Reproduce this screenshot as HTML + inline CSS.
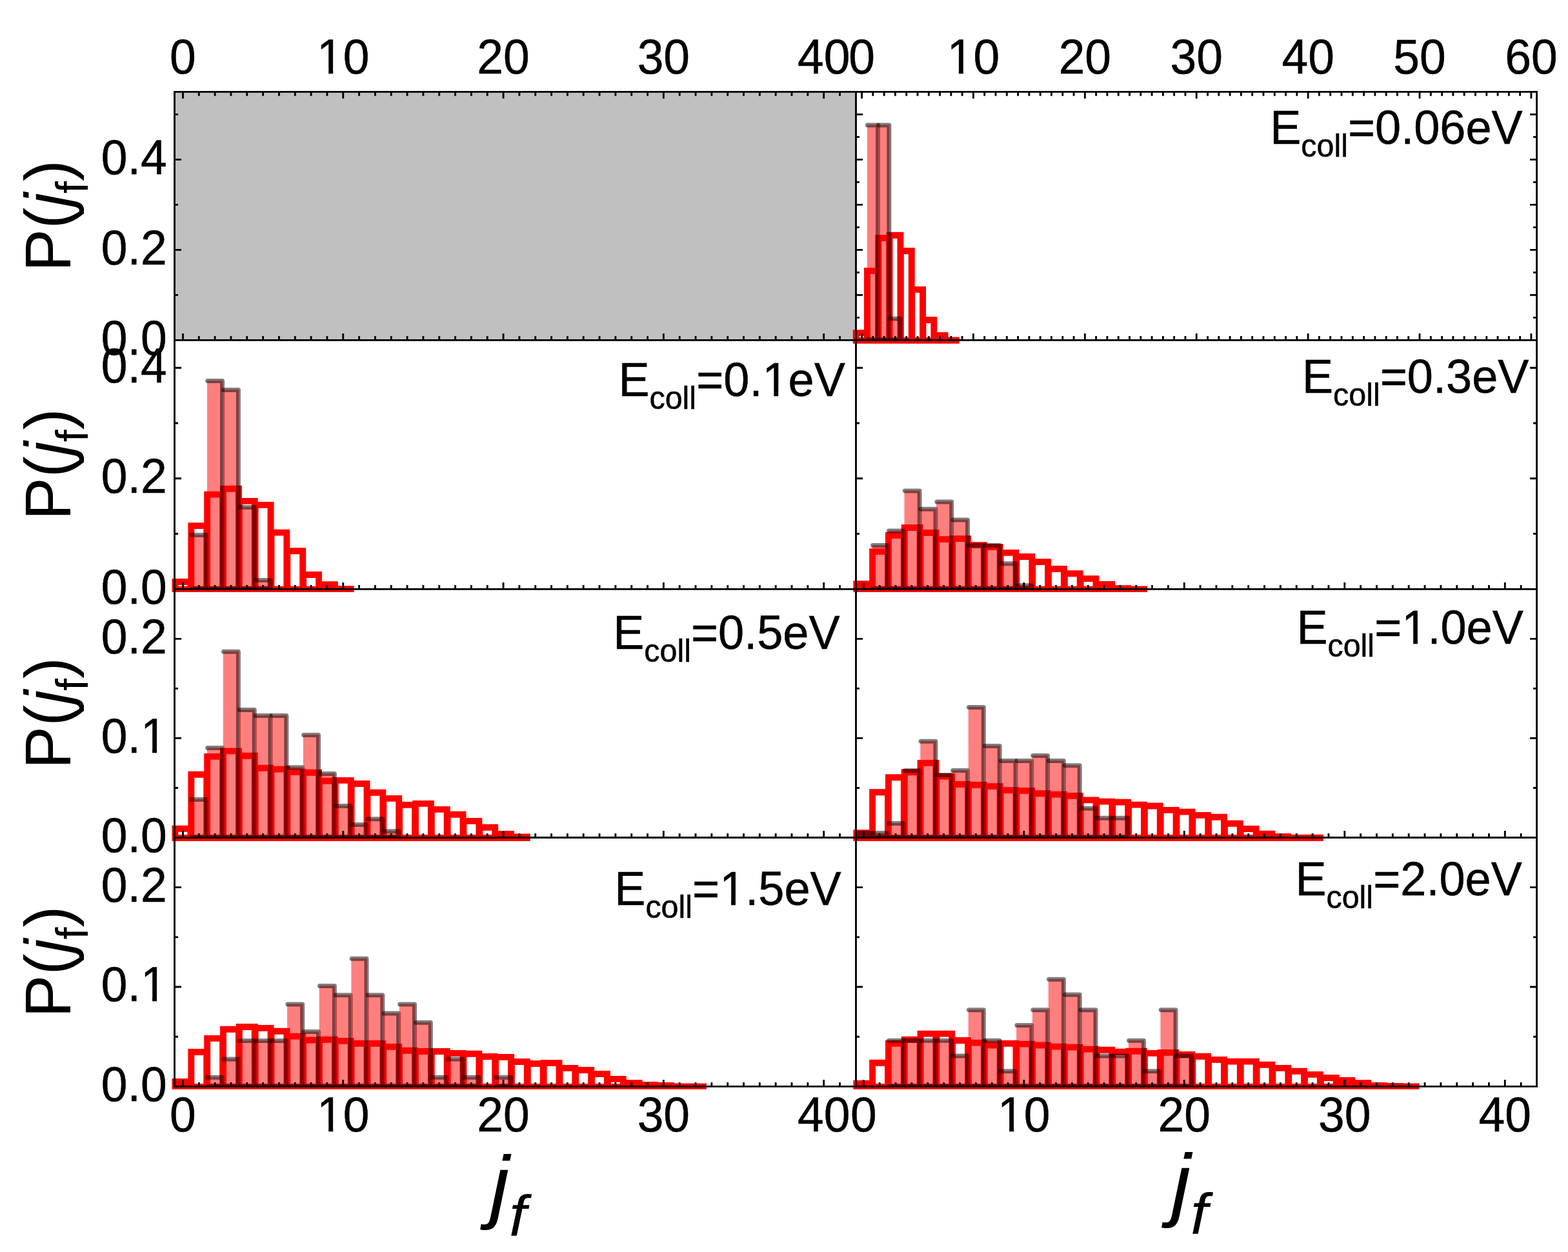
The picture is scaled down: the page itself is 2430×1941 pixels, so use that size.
<!DOCTYPE html>
<html lang="en"><head><meta charset="utf-8"><title>P(jf) rotational distributions</title>
<style>
html,body{margin:0;padding:0;background:#fff;}
body{width:2430px;height:1941px;overflow:hidden;}
svg{display:block;}
text{font-family:"Liberation Sans",sans-serif;fill:#000;}
.i{font-style:italic;}
.b{stroke:#000;stroke-width:0.5px;stroke-linejoin:round;}
.red{fill:none;stroke:#f00;stroke-width:9.9;stroke-linejoin:miter;}
.pk{fill:#f00;fill-opacity:0.5;stroke:none;}
.gl{fill:none;stroke:#000;stroke-opacity:0.5;stroke-width:7.0;stroke-linecap:round;stroke-linejoin:round;}
.fr{fill:none;stroke:#000;stroke-width:2.85;stroke-linecap:square;}
.ti{fill:none;stroke:#000;stroke-width:2.85;}
</style></head><body>
<svg width="2430" height="1941" viewBox="0 0 2430 1941" role="img" aria-label="Final rotational state distributions P(jf) for seven collision energies">
<defs>
<clipPath id="c00"><rect x="270.5" y="0" width="2430" height="527.4"/></clipPath>
<clipPath id="c01"><rect x="1326.5" y="0" width="2430" height="527.4"/></clipPath>
<clipPath id="c10"><rect x="270.5" y="0" width="2430" height="913.3"/></clipPath>
<clipPath id="c11"><rect x="1326.5" y="0" width="2430" height="913.3"/></clipPath>
<clipPath id="c20"><rect x="270.5" y="0" width="2430" height="1298.5"/></clipPath>
<clipPath id="c21"><rect x="1326.5" y="0" width="2430" height="1298.5"/></clipPath>
<clipPath id="c30"><rect x="270.5" y="0" width="2430" height="1684.4"/></clipPath>
<clipPath id="c31"><rect x="1326.5" y="0" width="2430" height="1684.4"/></clipPath>
<clipPath id="cr1"><rect x="0" y="0" width="2430" height="917.9"/></clipPath>
<clipPath id="cr3"><rect x="0" y="0" width="2430" height="1688.8"/></clipPath>
</defs>
<rect x="0" y="0" width="2430" height="1941" fill="#fff"/>
<rect x="270.5" y="142.4" width="1056" height="385" fill="#c0c0c0"/>
<g id="r1R">
<path class="red" d="M1326.71 527.85V516.09H1343.6V527.85ZM1344 527.85V419.91H1360.88V527.85ZM1361.29 527.85V369.02H1378.17V527.85ZM1378.58 527.85V364.82H1395.46V527.85ZM1395.87 527.85V388.97H1412.76V527.85ZM1413.16 527.85V448.89H1430.05V527.85ZM1430.45 527.85V495.93H1447.34V527.85ZM1447.74 527.85V520.01H1464.62V527.85ZM1465.03 527.85V527.55H1481.91V527.85Z"/>
<g clip-path="url(#c01)">
<path class="pk" d="M1343.8 527.4V193.57H1361.09V527.4Z"/><path class="gl" d="M1344.3 194.07H1360.59V526.9H1344.3"/>
<path class="pk" d="M1361.09 527.4V193.57H1378.38V527.4Z"/><path class="gl" d="M1361.59 194.07H1377.88V526.9H1361.59"/>
<path class="pk" d="M1378.38 527.4V493.57H1395.66V527.4Z"/><path class="gl" d="M1378.88 494.07H1395.16V526.9H1378.88"/>
</g>
</g>
<g id="r2L">
<path class="red" clip-path="url(#cr1)" d="M271.5 913.75V901.94H295.4V913.75ZM296.33 913.75V815.16H320.23V913.75ZM321.16 913.75V766.62H345.06V913.75ZM345.99 913.75V757.79H369.89V913.75ZM370.82 913.75V776.83H394.72V913.75ZM395.65 913.75V782.83H419.55V913.75ZM420.48 913.75V825.62H444.38V913.75ZM445.31 913.75V854.26H469.21V913.75ZM470.14 913.75V891.05H494.04V913.75ZM494.97 913.75V906.15H518.87V913.75ZM519.8 913.75V913.09H543.7V913.75Z"/>
<g clip-path="url(#c10)">
<path class="pk" d="M296.06 913.3V829.1H320.49V913.3Z"/><path class="gl" d="M296.83 829.6H319.73V912.8H296.83"/>
<path class="pk" d="M320.9 913.3V589.93H345.32V913.3Z"/><path class="gl" d="M321.66 590.43H344.56V912.8H321.66"/>
<path class="pk" d="M345.73 913.3V604.08H370.15V913.3Z"/><path class="gl" d="M346.49 604.58H369.39V912.8H346.49"/>
<path class="pk" d="M370.56 913.3V785.88H394.98V913.3Z"/><path class="gl" d="M371.32 786.38H394.22V912.8H371.32"/>
<path class="pk" d="M395.38 913.3V899.08H419.81V913.3Z"/><path class="gl" d="M396.15 899.58H419.05V912.8H396.15"/>
</g>
</g>
<g id="r2R">
<path class="red" clip-path="url(#cr1)" d="M1327.31 913.75V905.28H1351.19V913.75ZM1352.12 913.75V855.11H1376V913.75ZM1376.93 913.75V829.99H1400.81V913.75ZM1401.74 913.75V817.98H1425.62V913.75ZM1426.55 913.75V826.04H1450.43V913.75ZM1451.36 913.75V836.08H1475.24V913.75ZM1476.17 913.75V835.13H1500.05V913.75ZM1500.98 913.75V845.08H1524.86V913.75ZM1525.79 913.75V848.17H1549.67V913.75ZM1550.6 913.75V856.92H1574.48V913.75ZM1575.41 913.75V863H1599.29V913.75ZM1600.22 913.75V871.15H1624.1V913.75ZM1625.03 913.75V882.04H1648.91V913.75ZM1649.84 913.75V889.25H1673.72V913.75ZM1674.65 913.75V897.13H1698.53V913.75ZM1699.46 913.75V905.97H1723.34V913.75ZM1724.27 913.75V912.23H1748.15V913.75ZM1749.08 913.75V913.45H1772.96V913.75Z"/>
<g clip-path="url(#c11)">
<path class="pk" d="M1351.86 913.3V845.1H1376.26V913.3Z"/><path class="gl" d="M1352.62 845.6H1375.5V912.8H1352.62"/>
<path class="pk" d="M1376.66 913.3V822.53H1401.07V913.3Z"/><path class="gl" d="M1377.43 823.03H1400.31V912.8H1377.43"/>
<path class="pk" d="M1401.48 913.3V760.47H1425.88V913.3Z"/><path class="gl" d="M1402.24 760.97H1425.12V912.8H1402.24"/>
<path class="pk" d="M1426.29 913.3V788.68H1450.69V913.3Z"/><path class="gl" d="M1427.05 789.18H1449.93V912.8H1427.05"/>
<path class="pk" d="M1451.1 913.3V777.4H1475.5V913.3Z"/><path class="gl" d="M1451.86 777.9H1474.74V912.8H1451.86"/>
<path class="pk" d="M1475.9 913.3V805.61H1500.31V913.3Z"/><path class="gl" d="M1476.67 806.11H1499.55V912.8H1476.67"/>
<path class="pk" d="M1500.72 913.3V845.1H1525.12V913.3Z"/><path class="gl" d="M1501.48 845.6H1524.36V912.8H1501.48"/>
<path class="pk" d="M1525.53 913.3V845.1H1549.93V913.3Z"/><path class="gl" d="M1526.29 845.6H1549.17V912.8H1526.29"/>
<path class="pk" d="M1550.34 913.3V873.31H1574.74V913.3Z"/><path class="gl" d="M1551.1 873.81H1573.98V912.8H1551.1"/>
<path class="pk" d="M1575.14 913.3V907.16H1599.55V913.3Z"/><path class="gl" d="M1575.91 907.66H1598.79V912.8H1575.91"/>
</g>
</g>
<g id="r3L">
<path class="red" d="M271.5 1298.95V1284.75H295.4V1298.95ZM296.33 1298.95V1200.78H320.23V1298.95ZM321.16 1298.95V1172.89H345.06V1298.95ZM345.99 1298.95V1164.41H369.89V1298.95ZM370.82 1298.95V1171.81H394.72V1298.95ZM395.65 1298.95V1190.76H419.55V1298.95ZM420.48 1298.95V1192.61H444.38V1298.95ZM445.31 1298.95V1196.77H469.21V1298.95ZM470.14 1298.95V1197.69H494.04V1298.95ZM494.97 1298.95V1210.79H518.87V1298.95ZM519.8 1298.95V1209.87H543.7V1298.95ZM544.63 1298.95V1214.95H568.53V1298.95ZM569.46 1298.95V1228.82H593.36V1298.95ZM594.29 1298.95V1237.91H618.19V1298.95ZM619.12 1298.95V1247.92H643.02V1298.95ZM643.95 1298.95V1245.92H667.85V1298.95ZM668.78 1298.95V1254.86H692.68V1298.95ZM693.61 1298.95V1262.72H717.51V1298.95ZM718.44 1298.95V1272.88H742.34V1298.95ZM743.27 1298.95V1282.75H767.17V1298.95ZM768.1 1298.95V1292.92H792V1298.95ZM792.93 1298.95V1297.54H816.83V1298.95Z"/>
<g clip-path="url(#c20)">
<path class="pk" d="M296.06 1298.5V1238.99H320.49V1298.5Z"/><path class="gl" d="M296.83 1239.49H319.73V1298H296.83"/>
<path class="pk" d="M320.9 1298.5V1159.02H345.32V1298.5Z"/><path class="gl" d="M321.66 1159.52H344.56V1298H321.66"/>
<path class="pk" d="M345.73 1298.5V1009.87H370.15V1298.5Z"/><path class="gl" d="M346.49 1010.37H369.39V1298H346.49"/>
<path class="pk" d="M370.56 1298.5V1100.01H394.98V1298.5Z"/><path class="gl" d="M371.32 1100.51H394.22V1298H371.32"/>
<path class="pk" d="M395.38 1298.5V1109.1H419.81V1298.5Z"/><path class="gl" d="M396.15 1109.6H419.05V1298H396.15"/>
<path class="pk" d="M420.21 1298.5V1109.1H444.64V1298.5Z"/><path class="gl" d="M420.98 1109.6H443.88V1298H420.98"/>
<path class="pk" d="M445.05 1298.5V1189.22H469.47V1298.5Z"/><path class="gl" d="M445.81 1189.72H468.71V1298H445.81"/>
<path class="pk" d="M469.88 1298.5V1138.99H494.3V1298.5Z"/><path class="gl" d="M470.64 1139.49H493.54V1298H470.64"/>
<path class="pk" d="M494.7 1298.5V1198.93H519.13V1298.5Z"/><path class="gl" d="M495.47 1199.43H518.37V1298H495.47"/>
<path class="pk" d="M519.53 1298.5V1249H543.97V1298.5Z"/><path class="gl" d="M520.3 1249.5H543.2V1298H520.3"/>
<path class="pk" d="M544.36 1298.5V1277.97H568.79V1298.5Z"/><path class="gl" d="M545.13 1278.47H568.03V1298H545.13"/>
<path class="pk" d="M569.19 1298.5V1269.19H593.62V1298.5Z"/><path class="gl" d="M569.96 1269.69H592.86V1298H569.96"/>
<path class="pk" d="M594.02 1298.5V1288.29H618.46V1298.5Z"/><path class="gl" d="M594.79 1288.79H617.69V1298H594.79"/>
</g>
</g>
<g id="r3R">
<path class="red" d="M1327.31 1298.95V1291.21H1351.19V1298.95ZM1352.12 1298.95V1228.19H1376V1298.95ZM1376.93 1298.95V1205.23H1400.81V1298.95ZM1401.74 1298.95V1197.22H1425.62V1298.95ZM1426.55 1298.95V1182.89H1450.43V1298.95ZM1451.36 1298.95V1203.84H1475.24V1298.95ZM1476.17 1298.95V1216.02H1500.05V1298.95ZM1500.98 1298.95V1216.94H1524.86V1298.95ZM1525.79 1298.95V1219.1H1549.67V1298.95ZM1550.6 1298.95V1225.11H1574.48V1298.95ZM1575.41 1298.95V1225.88H1599.29V1298.95ZM1600.22 1298.95V1230.19H1624.1V1298.95ZM1625.03 1298.95V1231.58H1648.91V1298.95ZM1649.84 1298.95V1233.89H1673.72V1298.95ZM1674.65 1298.95V1240.36H1698.53V1298.95ZM1699.46 1298.95V1242.59H1723.34V1298.95ZM1724.27 1298.95V1243.66H1748.15V1298.95ZM1749.08 1298.95V1247.67H1772.96V1298.95ZM1773.89 1298.95V1249.52H1797.77V1298.95ZM1798.7 1298.95V1255.84H1822.58V1298.95ZM1823.51 1298.95V1258.61H1847.39V1298.95ZM1848.32 1298.95V1263.85H1872.2V1298.95ZM1873.13 1298.95V1266.78H1897.01V1298.95ZM1897.94 1298.95V1276.79H1921.82V1298.95ZM1922.75 1298.95V1284.96H1946.63V1298.95ZM1947.56 1298.95V1292.82H1971.44V1298.95ZM1972.37 1298.95V1296.98H1996.25V1298.95ZM1997.18 1298.95V1298.65H2021.06V1298.95ZM2021.99 1298.95V1298.65H2045.87V1298.95Z"/>
<g clip-path="url(#c21)">
<path class="pk" d="M1327.05 1298.5V1290.91H1351.45V1298.5Z"/><path class="gl" d="M1327.81 1291.41H1350.69V1298H1327.81"/>
<path class="pk" d="M1351.86 1298.5V1290.91H1376.26V1298.5Z"/><path class="gl" d="M1352.62 1291.41H1375.5V1298H1352.62"/>
<path class="pk" d="M1376.66 1298.5V1276.12H1401.07V1298.5Z"/><path class="gl" d="M1377.43 1276.62H1400.31V1298H1377.43"/>
<path class="pk" d="M1401.48 1298.5V1194.15H1425.88V1298.5Z"/><path class="gl" d="M1402.24 1194.65H1425.12V1298H1402.24"/>
<path class="pk" d="M1426.29 1298.5V1148.7H1450.69V1298.5Z"/><path class="gl" d="M1427.05 1149.2H1449.93V1298H1427.05"/>
<path class="pk" d="M1451.1 1298.5V1201.08H1475.5V1298.5Z"/><path class="gl" d="M1451.86 1201.58H1474.74V1298H1451.86"/>
<path class="pk" d="M1475.9 1298.5V1194H1500.31V1298.5Z"/><path class="gl" d="M1476.67 1194.5H1499.55V1298H1476.67"/>
<path class="pk" d="M1500.72 1298.5V1096H1525.12V1298.5Z"/><path class="gl" d="M1501.48 1096.5H1524.36V1298H1501.48"/>
<path class="pk" d="M1525.53 1298.5V1155.94H1549.93V1298.5Z"/><path class="gl" d="M1526.29 1156.44H1549.17V1298H1526.29"/>
<path class="pk" d="M1550.34 1298.5V1179.05H1574.74V1298.5Z"/><path class="gl" d="M1551.1 1179.55H1573.98V1298H1551.1"/>
<path class="pk" d="M1575.14 1298.5V1179.05H1599.55V1298.5Z"/><path class="gl" d="M1575.91 1179.55H1598.79V1298H1575.91"/>
<path class="pk" d="M1599.95 1298.5V1171.04H1624.36V1298.5Z"/><path class="gl" d="M1600.72 1171.54H1623.6V1298H1600.72"/>
<path class="pk" d="M1624.77 1298.5V1179.05H1649.17V1298.5Z"/><path class="gl" d="M1625.53 1179.55H1648.41V1298H1625.53"/>
<path class="pk" d="M1649.58 1298.5V1186.14H1673.98V1298.5Z"/><path class="gl" d="M1650.34 1186.64H1673.22V1298H1650.34"/>
<path class="pk" d="M1674.38 1298.5V1252.7H1698.79V1298.5Z"/><path class="gl" d="M1675.15 1253.2H1698.03V1298H1675.15"/>
<path class="pk" d="M1699.2 1298.5V1267.8H1723.61V1298.5Z"/><path class="gl" d="M1699.96 1268.3H1722.84V1298H1699.96"/>
<path class="pk" d="M1724.01 1298.5V1267.8H1748.41V1298.5Z"/><path class="gl" d="M1724.77 1268.3H1747.65V1298H1724.77"/>
</g>
</g>
<g id="r4L">
<path class="red" clip-path="url(#cr3)" d="M271.5 1684.85V1676.89H295.4V1684.85ZM296.33 1684.85V1631.05H320.23V1684.85ZM321.16 1684.85V1609.9H345.06V1684.85ZM345.99 1684.85V1595.7H369.89V1684.85ZM370.82 1684.85V1591.99H394.72V1684.85ZM395.65 1684.85V1593.85H419.55V1684.85ZM420.48 1684.85V1598.78H444.38V1684.85ZM445.31 1684.85V1606.66H469.21V1684.85ZM470.14 1684.85V1612.52H494.04V1684.85ZM494.97 1684.85V1611.75H518.87V1684.85ZM519.8 1684.85V1613.91H543.7V1684.85ZM544.63 1684.85V1617.77H568.53V1684.85ZM569.46 1684.85V1617.77H593.36V1684.85ZM594.29 1684.85V1622.86H618.19V1684.85ZM619.12 1684.85V1628.73H643.02V1684.85ZM643.95 1684.85V1629.97H667.85V1684.85ZM668.78 1684.85V1629.97H692.68V1684.85ZM693.61 1684.85V1632.9H717.51V1684.85ZM718.44 1684.85V1633.82H742.34V1684.85ZM743.27 1684.85V1637.99H767.17V1684.85ZM768.1 1684.85V1638.92H792V1684.85ZM792.93 1684.85V1646.02H816.83V1684.85ZM817.76 1684.85V1648.95H841.66V1684.85ZM842.59 1684.85V1648.03H866.49V1684.85ZM867.42 1684.85V1655.9H891.32V1684.85ZM892.25 1684.85V1658.98H916.15V1684.85ZM917.08 1684.85V1665.01H940.98V1684.85ZM941.91 1684.85V1672.88H965.81V1684.85ZM966.74 1684.85V1678.9H990.64V1684.85ZM991.57 1684.85V1681.98H1015.47V1684.85ZM1016.4 1684.85V1683.07H1040.3V1684.85ZM1041.23 1684.85V1684.55H1065.13V1684.85ZM1066.06 1684.85V1684.55H1089.96V1684.85Z"/>
<g clip-path="url(#c30)">
<path class="pk" d="M320.9 1684.4V1669.74H345.32V1684.4Z"/><path class="gl" d="M321.66 1670.24H344.56V1683.9H321.66"/>
<path class="pk" d="M345.73 1684.4V1641.42H370.15V1684.4Z"/><path class="gl" d="M346.49 1641.92H369.39V1683.9H346.49"/>
<path class="pk" d="M370.56 1684.4V1613.09H394.98V1684.4Z"/><path class="gl" d="M371.32 1613.59H394.22V1683.9H371.32"/>
<path class="pk" d="M395.38 1684.4V1613.09H419.81V1684.4Z"/><path class="gl" d="M396.15 1613.59H419.05V1683.9H396.15"/>
<path class="pk" d="M420.21 1684.4V1613.09H444.64V1684.4Z"/><path class="gl" d="M420.98 1613.59H443.88V1683.9H420.98"/>
<path class="pk" d="M445.05 1684.4V1556.45H469.47V1684.4Z"/><path class="gl" d="M445.81 1556.95H468.71V1683.9H445.81"/>
<path class="pk" d="M469.88 1684.4V1598.93H494.3V1684.4Z"/><path class="gl" d="M470.64 1599.43H493.54V1683.9H470.64"/>
<path class="pk" d="M494.7 1684.4V1528.12H519.13V1684.4Z"/><path class="gl" d="M495.47 1528.62H518.37V1683.9H495.47"/>
<path class="pk" d="M519.53 1684.4V1542.29H543.97V1684.4Z"/><path class="gl" d="M520.3 1542.79H543.2V1683.9H520.3"/>
<path class="pk" d="M544.36 1684.4V1485.64H568.79V1684.4Z"/><path class="gl" d="M545.13 1486.14H568.03V1683.9H545.13"/>
<path class="pk" d="M569.19 1684.4V1542.29H593.62V1684.4Z"/><path class="gl" d="M569.96 1542.79H592.86V1683.9H569.96"/>
<path class="pk" d="M594.02 1684.4V1570.61H618.46V1684.4Z"/><path class="gl" d="M594.79 1571.11H617.69V1683.9H594.79"/>
<path class="pk" d="M618.85 1684.4V1556.45H643.28V1684.4Z"/><path class="gl" d="M619.62 1556.95H642.52V1683.9H619.62"/>
<path class="pk" d="M643.68 1684.4V1584.77H668.12V1684.4Z"/><path class="gl" d="M644.45 1585.27H667.35V1683.9H644.45"/>
<path class="pk" d="M668.51 1684.4V1669.74H692.95V1684.4Z"/><path class="gl" d="M669.28 1670.24H692.18V1683.9H669.28"/>
<path class="pk" d="M693.34 1684.4V1641.42H717.77V1684.4Z"/><path class="gl" d="M694.11 1641.92H717.01V1683.9H694.11"/>
<path class="pk" d="M718.17 1684.4V1669.74H742.6V1684.4Z"/><path class="gl" d="M718.94 1670.24H741.84V1683.9H718.94"/>
<path class="pk" d="M767.83 1684.4V1669.74H792.26V1684.4Z"/><path class="gl" d="M768.6 1670.24H791.5V1683.9H768.6"/>
</g>
</g>
<g id="r4R">
<path class="red" clip-path="url(#cr3)" d="M1327.31 1684.85V1679.77H1351.19V1684.85ZM1352.12 1684.85V1647.82H1376V1684.85ZM1376.93 1684.85V1617.72H1400.81V1684.85ZM1401.74 1684.85V1611.7H1425.62V1684.85ZM1426.55 1684.85V1602.59H1450.43V1684.85ZM1451.36 1684.85V1602.59H1475.24V1684.85ZM1476.17 1684.85V1612.94H1500.05V1684.85ZM1500.98 1684.85V1616.64H1524.86V1684.85ZM1525.79 1684.85V1620.5H1549.67V1684.85ZM1550.6 1684.85V1617.72H1574.48V1684.85ZM1575.41 1684.85V1618.65H1599.29V1684.85ZM1600.22 1684.85V1620.5H1624.1V1684.85ZM1625.03 1684.85V1622.66H1648.91V1684.85ZM1649.84 1684.85V1623.59H1673.72V1684.85ZM1674.65 1684.85V1626.67H1698.53V1684.85ZM1699.46 1684.85V1627.75H1723.34V1684.85ZM1724.27 1684.85V1630.69H1748.15V1684.85ZM1749.08 1684.85V1629.76H1772.96V1684.85ZM1773.89 1684.85V1632.85H1797.77V1684.85ZM1798.7 1684.85V1631.92H1822.58V1684.85ZM1823.51 1684.85V1635.01H1847.39V1684.85ZM1848.32 1684.85V1637.79H1872.2V1684.85ZM1873.13 1684.85V1642.88H1897.01V1684.85ZM1897.94 1684.85V1645.66H1921.82V1684.85ZM1922.75 1684.85V1645.66H1946.63V1684.85ZM1947.56 1684.85V1650.75H1971.44V1684.85ZM1972.37 1684.85V1655.85H1996.25V1684.85ZM1997.18 1684.85V1660.79H2021.06V1684.85ZM2021.99 1684.85V1665.88H2045.87V1684.85ZM2046.8 1684.85V1670.98H2070.68V1684.85ZM2071.61 1684.85V1674.99H2095.49V1684.85ZM2096.42 1684.85V1678.85H2120.3V1684.85ZM2121.23 1684.85V1682.86H2145.11V1684.85ZM2146.04 1684.85V1683.94H2169.92V1684.85ZM2170.85 1684.85V1684.55H2194.73V1684.85Z"/>
<g clip-path="url(#c31)">
<path class="pk" d="M1376.66 1684.4V1612.66H1401.07V1684.4Z"/><path class="gl" d="M1377.43 1613.16H1400.31V1683.9H1377.43"/>
<path class="pk" d="M1401.48 1684.4V1612.66H1425.88V1684.4Z"/><path class="gl" d="M1402.24 1613.16H1425.12V1683.9H1402.24"/>
<path class="pk" d="M1426.29 1684.4V1612.66H1450.69V1684.4Z"/><path class="gl" d="M1427.05 1613.16H1449.93V1683.9H1427.05"/>
<path class="pk" d="M1451.1 1684.4V1612.66H1475.5V1684.4Z"/><path class="gl" d="M1451.86 1613.16H1474.74V1683.9H1451.86"/>
<path class="pk" d="M1475.9 1684.4V1636.4H1500.31V1684.4Z"/><path class="gl" d="M1476.67 1636.9H1499.55V1683.9H1476.67"/>
<path class="pk" d="M1500.72 1684.4V1565.16H1525.12V1684.4Z"/><path class="gl" d="M1501.48 1565.66H1524.36V1683.9H1501.48"/>
<path class="pk" d="M1525.53 1684.4V1612.66H1549.93V1684.4Z"/><path class="gl" d="M1526.29 1613.16H1549.17V1683.9H1526.29"/>
<path class="pk" d="M1550.34 1684.4V1660.15H1574.74V1684.4Z"/><path class="gl" d="M1551.1 1660.65H1573.98V1683.9H1551.1"/>
<path class="pk" d="M1575.14 1684.4V1588.91H1599.55V1684.4Z"/><path class="gl" d="M1575.91 1589.41H1598.79V1683.9H1575.91"/>
<path class="pk" d="M1599.95 1684.4V1565.16H1624.36V1684.4Z"/><path class="gl" d="M1600.72 1565.66H1623.6V1683.9H1600.72"/>
<path class="pk" d="M1624.77 1684.4V1517.67H1649.17V1684.4Z"/><path class="gl" d="M1625.53 1518.17H1648.41V1683.9H1625.53"/>
<path class="pk" d="M1649.58 1684.4V1541.41H1673.98V1684.4Z"/><path class="gl" d="M1650.34 1541.91H1673.22V1683.9H1650.34"/>
<path class="pk" d="M1674.38 1684.4V1565.16H1698.79V1684.4Z"/><path class="gl" d="M1675.15 1565.66H1698.03V1683.9H1675.15"/>
<path class="pk" d="M1699.2 1684.4V1636.4H1723.61V1684.4Z"/><path class="gl" d="M1699.96 1636.9H1722.84V1683.9H1699.96"/>
<path class="pk" d="M1724.01 1684.4V1636.4H1748.41V1684.4Z"/><path class="gl" d="M1724.77 1636.9H1747.65V1683.9H1724.77"/>
<path class="pk" d="M1748.82 1684.4V1612.66H1773.22V1684.4Z"/><path class="gl" d="M1749.58 1613.16H1772.46V1683.9H1749.58"/>
<path class="pk" d="M1773.62 1684.4V1660.15H1798.03V1684.4Z"/><path class="gl" d="M1774.39 1660.65H1797.27V1683.9H1774.39"/>
<path class="pk" d="M1798.43 1684.4V1565.16H1822.84V1684.4Z"/><path class="gl" d="M1799.2 1565.66H1822.08V1683.9H1799.2"/>
<path class="pk" d="M1823.25 1684.4V1636.4H1847.65V1684.4Z"/><path class="gl" d="M1824.01 1636.9H1846.89V1683.9H1824.01"/>
</g>
</g>
<path class="ti" d="M283.45 142.4v10.4M308.28 142.4v6.4M333.11 142.4v6.4M357.94 142.4v6.4M382.77 142.4v6.4M407.6 142.4v6.4M432.43 142.4v6.4M457.26 142.4v6.4M482.09 142.4v6.4M506.92 142.4v6.4M531.75 142.4v10.4M556.58 142.4v6.4M581.41 142.4v6.4M606.24 142.4v6.4M631.07 142.4v6.4M655.9 142.4v6.4M680.73 142.4v6.4M705.56 142.4v6.4M730.39 142.4v6.4M755.22 142.4v6.4M780.05 142.4v10.4M804.88 142.4v6.4M829.71 142.4v6.4M854.54 142.4v6.4M879.37 142.4v6.4M904.2 142.4v6.4M929.03 142.4v6.4M953.86 142.4v6.4M978.69 142.4v6.4M1003.52 142.4v6.4M1028.35 142.4v10.4M1053.18 142.4v6.4M1078.01 142.4v6.4M1102.84 142.4v6.4M1127.67 142.4v6.4M1152.5 142.4v6.4M1177.33 142.4v6.4M1202.16 142.4v6.4M1226.99 142.4v6.4M1251.82 142.4v6.4M1276.65 142.4v10.4M1301.48 142.4v6.4M1335.55 142.4v10.4M1352.84 142.4v6.4M1370.13 142.4v6.4M1387.42 142.4v6.4M1404.71 142.4v6.4M1422 142.4v6.4M1439.29 142.4v6.4M1456.58 142.4v6.4M1473.87 142.4v6.4M1491.16 142.4v6.4M1508.45 142.4v10.4M1525.74 142.4v6.4M1543.03 142.4v6.4M1560.32 142.4v6.4M1577.61 142.4v6.4M1594.9 142.4v6.4M1612.19 142.4v6.4M1629.48 142.4v6.4M1646.77 142.4v6.4M1664.06 142.4v6.4M1681.35 142.4v10.4M1698.64 142.4v6.4M1715.93 142.4v6.4M1733.22 142.4v6.4M1750.51 142.4v6.4M1767.8 142.4v6.4M1785.09 142.4v6.4M1802.38 142.4v6.4M1819.67 142.4v6.4M1836.96 142.4v6.4M1854.25 142.4v10.4M1871.54 142.4v6.4M1888.83 142.4v6.4M1906.12 142.4v6.4M1923.41 142.4v6.4M1940.7 142.4v6.4M1957.99 142.4v6.4M1975.28 142.4v6.4M1992.57 142.4v6.4M2009.86 142.4v6.4M2027.15 142.4v10.4M2044.44 142.4v6.4M2061.73 142.4v6.4M2079.02 142.4v6.4M2096.31 142.4v6.4M2113.6 142.4v6.4M2130.89 142.4v6.4M2148.18 142.4v6.4M2165.47 142.4v6.4M2182.76 142.4v6.4M2200.05 142.4v10.4M2217.34 142.4v6.4M2234.63 142.4v6.4M2251.92 142.4v6.4M2269.21 142.4v6.4M2286.5 142.4v6.4M2303.79 142.4v6.4M2321.08 142.4v6.4M2338.37 142.4v6.4M2355.66 142.4v6.4M2372.95 142.4v10.4M283.45 527.4v-10.4M308.28 527.4v-6.4M333.11 527.4v-6.4M357.94 527.4v-6.4M382.77 527.4v-6.4M407.6 527.4v-6.4M432.43 527.4v-6.4M457.26 527.4v-6.4M482.09 527.4v-6.4M506.92 527.4v-6.4M531.75 527.4v-10.4M556.58 527.4v-6.4M581.41 527.4v-6.4M606.24 527.4v-6.4M631.07 527.4v-6.4M655.9 527.4v-6.4M680.73 527.4v-6.4M705.56 527.4v-6.4M730.39 527.4v-6.4M755.22 527.4v-6.4M780.05 527.4v-10.4M804.88 527.4v-6.4M829.71 527.4v-6.4M854.54 527.4v-6.4M879.37 527.4v-6.4M904.2 527.4v-6.4M929.03 527.4v-6.4M953.86 527.4v-6.4M978.69 527.4v-6.4M1003.52 527.4v-6.4M1028.35 527.4v-10.4M1053.18 527.4v-6.4M1078.01 527.4v-6.4M1102.84 527.4v-6.4M1127.67 527.4v-6.4M1152.5 527.4v-6.4M1177.33 527.4v-6.4M1202.16 527.4v-6.4M1226.99 527.4v-6.4M1251.82 527.4v-6.4M1276.65 527.4v-10.4M1301.48 527.4v-6.4M1335.55 527.4v-10.4M1352.84 527.4v-6.4M1370.13 527.4v-6.4M1387.42 527.4v-6.4M1404.71 527.4v-6.4M1422 527.4v-6.4M1439.29 527.4v-6.4M1456.58 527.4v-6.4M1473.87 527.4v-6.4M1491.16 527.4v-6.4M1508.45 527.4v-10.4M1525.74 527.4v-6.4M1543.03 527.4v-6.4M1560.32 527.4v-6.4M1577.61 527.4v-6.4M1594.9 527.4v-6.4M1612.19 527.4v-6.4M1629.48 527.4v-6.4M1646.77 527.4v-6.4M1664.06 527.4v-6.4M1681.35 527.4v-10.4M1698.64 527.4v-6.4M1715.93 527.4v-6.4M1733.22 527.4v-6.4M1750.51 527.4v-6.4M1767.8 527.4v-6.4M1785.09 527.4v-6.4M1802.38 527.4v-6.4M1819.67 527.4v-6.4M1836.96 527.4v-6.4M1854.25 527.4v-10.4M1871.54 527.4v-6.4M1888.83 527.4v-6.4M1906.12 527.4v-6.4M1923.41 527.4v-6.4M1940.7 527.4v-6.4M1957.99 527.4v-6.4M1975.28 527.4v-6.4M1992.57 527.4v-6.4M2009.86 527.4v-6.4M2027.15 527.4v-10.4M2044.44 527.4v-6.4M2061.73 527.4v-6.4M2079.02 527.4v-6.4M2096.31 527.4v-6.4M2113.6 527.4v-6.4M2130.89 527.4v-6.4M2148.18 527.4v-6.4M2165.47 527.4v-6.4M2182.76 527.4v-6.4M2200.05 527.4v-10.4M2217.34 527.4v-6.4M2234.63 527.4v-6.4M2251.92 527.4v-6.4M2269.21 527.4v-6.4M2286.5 527.4v-6.4M2303.79 527.4v-6.4M2321.08 527.4v-6.4M2338.37 527.4v-6.4M2355.66 527.4v-6.4M2372.95 527.4v-10.4M283.45 913.3v-10.4M308.28 913.3v-6.4M333.11 913.3v-6.4M357.94 913.3v-6.4M382.77 913.3v-6.4M407.6 913.3v-6.4M432.43 913.3v-6.4M457.26 913.3v-6.4M482.09 913.3v-6.4M506.92 913.3v-6.4M531.75 913.3v-10.4M556.58 913.3v-6.4M581.41 913.3v-6.4M606.24 913.3v-6.4M631.07 913.3v-6.4M655.9 913.3v-6.4M680.73 913.3v-6.4M705.56 913.3v-6.4M730.39 913.3v-6.4M755.22 913.3v-6.4M780.05 913.3v-10.4M804.88 913.3v-6.4M829.71 913.3v-6.4M854.54 913.3v-6.4M879.37 913.3v-6.4M904.2 913.3v-6.4M929.03 913.3v-6.4M953.86 913.3v-6.4M978.69 913.3v-6.4M1003.52 913.3v-6.4M1028.35 913.3v-10.4M1053.18 913.3v-6.4M1078.01 913.3v-6.4M1102.84 913.3v-6.4M1127.67 913.3v-6.4M1152.5 913.3v-6.4M1177.33 913.3v-6.4M1202.16 913.3v-6.4M1226.99 913.3v-6.4M1251.82 913.3v-6.4M1276.65 913.3v-10.4M1301.48 913.3v-6.4M1338.3 913.3v-10.4M1363.15 913.3v-6.4M1388 913.3v-6.4M1412.85 913.3v-6.4M1437.7 913.3v-6.4M1462.55 913.3v-6.4M1487.4 913.3v-6.4M1512.25 913.3v-6.4M1537.1 913.3v-6.4M1561.95 913.3v-6.4M1586.8 913.3v-10.4M1611.65 913.3v-6.4M1636.5 913.3v-6.4M1661.35 913.3v-6.4M1686.2 913.3v-6.4M1711.05 913.3v-6.4M1735.9 913.3v-6.4M1760.75 913.3v-6.4M1785.6 913.3v-6.4M1810.45 913.3v-6.4M1835.3 913.3v-10.4M1860.15 913.3v-6.4M1885 913.3v-6.4M1909.85 913.3v-6.4M1934.7 913.3v-6.4M1959.55 913.3v-6.4M1984.4 913.3v-6.4M2009.25 913.3v-6.4M2034.1 913.3v-6.4M2058.95 913.3v-6.4M2083.8 913.3v-10.4M2108.65 913.3v-6.4M2133.5 913.3v-6.4M2158.35 913.3v-6.4M2183.2 913.3v-6.4M2208.05 913.3v-6.4M2232.9 913.3v-6.4M2257.75 913.3v-6.4M2282.6 913.3v-6.4M2307.45 913.3v-6.4M2332.3 913.3v-10.4M2357.15 913.3v-6.4M283.45 1298.5v-10.4M308.28 1298.5v-6.4M333.11 1298.5v-6.4M357.94 1298.5v-6.4M382.77 1298.5v-6.4M407.6 1298.5v-6.4M432.43 1298.5v-6.4M457.26 1298.5v-6.4M482.09 1298.5v-6.4M506.92 1298.5v-6.4M531.75 1298.5v-10.4M556.58 1298.5v-6.4M581.41 1298.5v-6.4M606.24 1298.5v-6.4M631.07 1298.5v-6.4M655.9 1298.5v-6.4M680.73 1298.5v-6.4M705.56 1298.5v-6.4M730.39 1298.5v-6.4M755.22 1298.5v-6.4M780.05 1298.5v-10.4M804.88 1298.5v-6.4M829.71 1298.5v-6.4M854.54 1298.5v-6.4M879.37 1298.5v-6.4M904.2 1298.5v-6.4M929.03 1298.5v-6.4M953.86 1298.5v-6.4M978.69 1298.5v-6.4M1003.52 1298.5v-6.4M1028.35 1298.5v-10.4M1053.18 1298.5v-6.4M1078.01 1298.5v-6.4M1102.84 1298.5v-6.4M1127.67 1298.5v-6.4M1152.5 1298.5v-6.4M1177.33 1298.5v-6.4M1202.16 1298.5v-6.4M1226.99 1298.5v-6.4M1251.82 1298.5v-6.4M1276.65 1298.5v-10.4M1301.48 1298.5v-6.4M1338.3 1298.5v-10.4M1363.15 1298.5v-6.4M1388 1298.5v-6.4M1412.85 1298.5v-6.4M1437.7 1298.5v-6.4M1462.55 1298.5v-6.4M1487.4 1298.5v-6.4M1512.25 1298.5v-6.4M1537.1 1298.5v-6.4M1561.95 1298.5v-6.4M1586.8 1298.5v-10.4M1611.65 1298.5v-6.4M1636.5 1298.5v-6.4M1661.35 1298.5v-6.4M1686.2 1298.5v-6.4M1711.05 1298.5v-6.4M1735.9 1298.5v-6.4M1760.75 1298.5v-6.4M1785.6 1298.5v-6.4M1810.45 1298.5v-6.4M1835.3 1298.5v-10.4M1860.15 1298.5v-6.4M1885 1298.5v-6.4M1909.85 1298.5v-6.4M1934.7 1298.5v-6.4M1959.55 1298.5v-6.4M1984.4 1298.5v-6.4M2009.25 1298.5v-6.4M2034.1 1298.5v-6.4M2058.95 1298.5v-6.4M2083.8 1298.5v-10.4M2108.65 1298.5v-6.4M2133.5 1298.5v-6.4M2158.35 1298.5v-6.4M2183.2 1298.5v-6.4M2208.05 1298.5v-6.4M2232.9 1298.5v-6.4M2257.75 1298.5v-6.4M2282.6 1298.5v-6.4M2307.45 1298.5v-6.4M2332.3 1298.5v-10.4M2357.15 1298.5v-6.4M283.45 1684.4v-10.4M308.28 1684.4v-6.4M333.11 1684.4v-6.4M357.94 1684.4v-6.4M382.77 1684.4v-6.4M407.6 1684.4v-6.4M432.43 1684.4v-6.4M457.26 1684.4v-6.4M482.09 1684.4v-6.4M506.92 1684.4v-6.4M531.75 1684.4v-10.4M556.58 1684.4v-6.4M581.41 1684.4v-6.4M606.24 1684.4v-6.4M631.07 1684.4v-6.4M655.9 1684.4v-6.4M680.73 1684.4v-6.4M705.56 1684.4v-6.4M730.39 1684.4v-6.4M755.22 1684.4v-6.4M780.05 1684.4v-10.4M804.88 1684.4v-6.4M829.71 1684.4v-6.4M854.54 1684.4v-6.4M879.37 1684.4v-6.4M904.2 1684.4v-6.4M929.03 1684.4v-6.4M953.86 1684.4v-6.4M978.69 1684.4v-6.4M1003.52 1684.4v-6.4M1028.35 1684.4v-10.4M1053.18 1684.4v-6.4M1078.01 1684.4v-6.4M1102.84 1684.4v-6.4M1127.67 1684.4v-6.4M1152.5 1684.4v-6.4M1177.33 1684.4v-6.4M1202.16 1684.4v-6.4M1226.99 1684.4v-6.4M1251.82 1684.4v-6.4M1276.65 1684.4v-10.4M1301.48 1684.4v-6.4M1338.3 1684.4v-10.4M1363.15 1684.4v-6.4M1388 1684.4v-6.4M1412.85 1684.4v-6.4M1437.7 1684.4v-6.4M1462.55 1684.4v-6.4M1487.4 1684.4v-6.4M1512.25 1684.4v-6.4M1537.1 1684.4v-6.4M1561.95 1684.4v-6.4M1586.8 1684.4v-10.4M1611.65 1684.4v-6.4M1636.5 1684.4v-6.4M1661.35 1684.4v-6.4M1686.2 1684.4v-6.4M1711.05 1684.4v-6.4M1735.9 1684.4v-6.4M1760.75 1684.4v-6.4M1785.6 1684.4v-6.4M1810.45 1684.4v-6.4M1835.3 1684.4v-10.4M1860.15 1684.4v-6.4M1885 1684.4v-6.4M1909.85 1684.4v-6.4M1934.7 1684.4v-6.4M1959.55 1684.4v-6.4M1984.4 1684.4v-6.4M2009.25 1684.4v-6.4M2034.1 1684.4v-6.4M2058.95 1684.4v-6.4M2083.8 1684.4v-10.4M2108.65 1684.4v-6.4M2133.5 1684.4v-6.4M2158.35 1684.4v-6.4M2183.2 1684.4v-6.4M2208.05 1684.4v-6.4M2232.9 1684.4v-6.4M2257.75 1684.4v-6.4M2282.6 1684.4v-6.4M2307.45 1684.4v-6.4M2332.3 1684.4v-10.4M2357.15 1684.4v-6.4M270.5 457.4h5.5M270.5 387.4h10.5M270.5 317.4h5.5M270.5 247.4h10.5M270.5 177.4h5.5M1326.5 492.4h5.5M1326.5 457.4h10.5M1326.5 422.4h5.5M1326.5 387.4h10.5M1326.5 352.4h5.5M1326.5 317.4h10.5M1326.5 282.4h5.5M1326.5 247.4h10.5M1326.5 212.4h5.5M1326.5 177.4h10.5M2381.6 492.4h-5.5M2381.6 457.4h-10.5M2381.6 422.4h-5.5M2381.6 387.4h-10.5M2381.6 352.4h-5.5M2381.6 317.4h-10.5M2381.6 282.4h-5.5M2381.6 247.4h-10.5M2381.6 212.4h-5.5M2381.6 177.4h-10.5M270.5 827.54h5.5M270.5 741.79h10.5M270.5 656.03h5.5M270.5 570.28h10.5M1326.5 827.54h5.5M1326.5 741.79h10.5M1326.5 656.03h5.5M1326.5 570.28h10.5M2381.6 827.54h-5.5M2381.6 741.79h-10.5M2381.6 656.03h-5.5M2381.6 570.28h-10.5M270.5 1221.46h5.5M270.5 1144.42h10.5M270.5 1067.38h5.5M270.5 990.34h10.5M1326.5 1221.46h5.5M1326.5 1144.42h10.5M1326.5 1067.38h5.5M1326.5 990.34h10.5M2381.6 1221.46h-5.5M2381.6 1144.42h-10.5M2381.6 1067.38h-5.5M2381.6 990.34h-10.5M270.5 1607.22h5.5M270.5 1530.04h10.5M270.5 1452.86h5.5M270.5 1375.68h10.5M1326.5 1607.22h5.5M1326.5 1530.04h10.5M1326.5 1452.86h5.5M1326.5 1375.68h10.5M2381.6 1607.22h-5.5M2381.6 1530.04h-10.5M2381.6 1452.86h-5.5M2381.6 1375.68h-10.5"/>
<path class="fr" d="M270.5 142.4H2381.6V1684.4H270.5ZM1326.5 142.4V1684.4M270.5 527.4H2381.6M270.5 913.3H2381.6M270.5 1298.5H2381.6"/>
<g id="ticklabels">
<text class="b" text-anchor="middle" transform="translate(283.45 113.8) scale(1 1.04)" font-size="73.2">0</text>
<text class="b" text-anchor="middle" transform="translate(531.75 113.8) scale(1 1.04)" font-size="73.2">10</text>
<rect x="494.26" y="106.71" width="14.94" height="8.69" fill="#fff"/>
<rect x="516.17" y="106.71" width="13.37" height="8.69" fill="#fff"/>
<text class="b" text-anchor="middle" transform="translate(780.05 113.8) scale(1 1.04)" font-size="73.2">20</text>
<text class="b" text-anchor="middle" transform="translate(1028.35 113.8) scale(1 1.04)" font-size="73.2">30</text>
<text class="b" text-anchor="middle" transform="translate(1276.65 113.8) scale(1 1.04)" font-size="73.2">40</text>
<text class="b" text-anchor="middle" transform="translate(1335.55 113.8) scale(1 1.04)" font-size="73.2">0</text>
<text class="b" text-anchor="middle" transform="translate(1508.45 113.8) scale(1 1.04)" font-size="73.2">10</text>
<rect x="1470.96" y="106.71" width="14.94" height="8.69" fill="#fff"/>
<rect x="1492.87" y="106.71" width="13.37" height="8.69" fill="#fff"/>
<text class="b" text-anchor="middle" transform="translate(1681.35 113.8) scale(1 1.04)" font-size="73.2">20</text>
<text class="b" text-anchor="middle" transform="translate(1854.25 113.8) scale(1 1.04)" font-size="73.2">30</text>
<text class="b" text-anchor="middle" transform="translate(2027.15 113.8) scale(1 1.04)" font-size="73.2">40</text>
<text class="b" text-anchor="middle" transform="translate(2200.05 113.8) scale(1 1.04)" font-size="73.2">50</text>
<text class="b" text-anchor="middle" transform="translate(2372.95 113.8) scale(1 1.04)" font-size="73.2">60</text>
<text class="b" text-anchor="middle" transform="translate(283.45 1754) scale(1 1.04)" font-size="73.2">0</text>
<text class="b" text-anchor="middle" transform="translate(531.75 1754) scale(1 1.04)" font-size="73.2">10</text>
<rect x="494.26" y="1746.91" width="14.94" height="8.69" fill="#fff"/>
<rect x="516.17" y="1746.91" width="13.37" height="8.69" fill="#fff"/>
<text class="b" text-anchor="middle" transform="translate(780.05 1754) scale(1 1.04)" font-size="73.2">20</text>
<text class="b" text-anchor="middle" transform="translate(1028.35 1754) scale(1 1.04)" font-size="73.2">30</text>
<text class="b" text-anchor="middle" transform="translate(1276.65 1754) scale(1 1.04)" font-size="73.2">40</text>
<text class="b" text-anchor="middle" transform="translate(1338.3 1754) scale(1 1.04)" font-size="73.2">0</text>
<text class="b" text-anchor="middle" transform="translate(1586.8 1754) scale(1 1.04)" font-size="73.2">10</text>
<rect x="1549.31" y="1746.91" width="14.94" height="8.69" fill="#fff"/>
<rect x="1571.22" y="1746.91" width="13.37" height="8.69" fill="#fff"/>
<text class="b" text-anchor="middle" transform="translate(1835.3 1754) scale(1 1.04)" font-size="73.2">20</text>
<text class="b" text-anchor="middle" transform="translate(2083.8 1754) scale(1 1.04)" font-size="73.2">30</text>
<text class="b" text-anchor="middle" transform="translate(2332.3 1754) scale(1 1.04)" font-size="73.2">40</text>
<text class="b" text-anchor="end" transform="translate(258.6 549.8) scale(1 1.04)" font-size="73.2">0.0</text>
<text class="b" text-anchor="end" transform="translate(258.6 409.8) scale(1 1.04)" font-size="73.2">0.2</text>
<text class="b" text-anchor="end" transform="translate(258.6 269.8) scale(1 1.04)" font-size="73.2">0.4</text>
<text class="b" text-anchor="end" transform="translate(258.6 935.7) scale(1 1.04)" font-size="73.2">0.0</text>
<text class="b" text-anchor="end" transform="translate(258.6 764.19) scale(1 1.04)" font-size="73.2">0.2</text>
<text class="b" text-anchor="end" transform="translate(258.6 592.68) scale(1 1.04)" font-size="73.2">0.4</text>
<text class="b" text-anchor="end" transform="translate(258.6 1320.9) scale(1 1.04)" font-size="73.2">0.0</text>
<text class="b" text-anchor="end" transform="translate(258.6 1166.82) scale(1 1.04)" font-size="73.2">0.1</text>
<rect x="221.11" y="1159.73" width="14.94" height="8.69" fill="#fff"/>
<rect x="243.02" y="1159.73" width="13.37" height="8.69" fill="#fff"/>
<text class="b" text-anchor="end" transform="translate(258.6 1012.74) scale(1 1.04)" font-size="73.2">0.2</text>
<text class="b" text-anchor="end" transform="translate(258.6 1706.8) scale(1 1.04)" font-size="73.2">0.0</text>
<text class="b" text-anchor="end" transform="translate(258.6 1552.44) scale(1 1.04)" font-size="73.2">0.1</text>
<rect x="221.11" y="1545.35" width="14.94" height="8.69" fill="#fff"/>
<rect x="243.02" y="1545.35" width="13.37" height="8.69" fill="#fff"/>
<text class="b" text-anchor="end" transform="translate(258.6 1398.08) scale(1 1.04)" font-size="73.2">0.2</text>
</g>
<g id="ytitles">
<text transform="translate(109 334.4) rotate(-90) scale(1 1.015)" x="-86.5" y="0" font-size="99">P(<tspan class="i" dx="0.8">j</tspan><tspan font-size="68.5" dx="-0.8" dy="26.6">f</tspan><tspan dy="-26.6">)</tspan></text>
<text transform="translate(109 719.85) rotate(-90) scale(1 1.015)" x="-86.5" y="0" font-size="99">P(<tspan class="i" dx="0.8">j</tspan><tspan font-size="68.5" dx="-0.8" dy="26.6">f</tspan><tspan dy="-26.6">)</tspan></text>
<text transform="translate(109 1105.4) rotate(-90) scale(1 1.015)" x="-86.5" y="0" font-size="99">P(<tspan class="i" dx="0.8">j</tspan><tspan font-size="68.5" dx="-0.8" dy="26.6">f</tspan><tspan dy="-26.6">)</tspan></text>
<text transform="translate(109 1490.95) rotate(-90) scale(1 1.015)" x="-86.5" y="0" font-size="99">P(<tspan class="i" dx="0.8">j</tspan><tspan font-size="68.5" dx="-0.8" dy="26.6">f</tspan><tspan dy="-26.6">)</tspan></text>
</g>
<g id="xtitles">
<text class="i" transform="translate(759.2 1881.2) scale(1.08 1)" font-size="125.4">j<tspan font-size="89.2" dx="-0.3" dy="34.5">f</tspan></text>
<text class="i" transform="translate(1815.3 1878.3) scale(1.08 1)" font-size="125.4">j<tspan font-size="89.2" dx="-0.3" dy="34.5">f</tspan></text>
</g>
<g id="labels">
<text class="b" transform="translate(1968.18 222.9) scale(1 1.03)" font-size="72.15">E<tspan font-size="48.4" dy="19.42">coll</tspan><tspan dy="-19.42">=0.06eV</tspan></text>
<text class="b" transform="translate(958.38 613.9) scale(1 1.03)" font-size="72.15">E<tspan font-size="48.4" dy="19.42">coll</tspan><tspan dy="-19.42">=0.1eV</tspan></text>
<rect x="1184.61" y="606.95" width="14.72" height="8.55" fill="#fff"/>
<rect x="1206.2" y="606.95" width="13.18" height="8.55" fill="#fff"/>
<text class="b" transform="translate(2017.98 609.4) scale(1 1.03)" font-size="72.15">E<tspan font-size="48.4" dy="19.42">coll</tspan><tspan dy="-19.42">=0.3eV</tspan></text>
<text class="b" transform="translate(950.18 1005.5) scale(1 1.03)" font-size="72.15">E<tspan font-size="48.4" dy="19.42">coll</tspan><tspan dy="-19.42">=0.5eV</tspan></text>
<text class="b" transform="translate(2009.38 998) scale(1 1.03)" font-size="72.15">E<tspan font-size="48.4" dy="19.42">coll</tspan><tspan dy="-19.42">=1.0eV</tspan></text>
<rect x="2175.43" y="991.05" width="14.72" height="8.55" fill="#fff"/>
<rect x="2197.03" y="991.05" width="13.18" height="8.55" fill="#fff"/>
<text class="b" transform="translate(952.28 1403.1) scale(1 1.03)" font-size="72.15">E<tspan font-size="48.4" dy="19.42">coll</tspan><tspan dy="-19.42">=1.5eV</tspan></text>
<rect x="1118.33" y="1396.15" width="14.72" height="8.55" fill="#fff"/>
<rect x="1139.93" y="1396.15" width="13.18" height="8.55" fill="#fff"/>
<text class="b" transform="translate(2007.38 1388) scale(1 1.03)" font-size="72.15">E<tspan font-size="48.4" dy="19.42">coll</tspan><tspan dy="-19.42">=2.0eV</tspan></text>
</g>
</svg>
</body></html>
